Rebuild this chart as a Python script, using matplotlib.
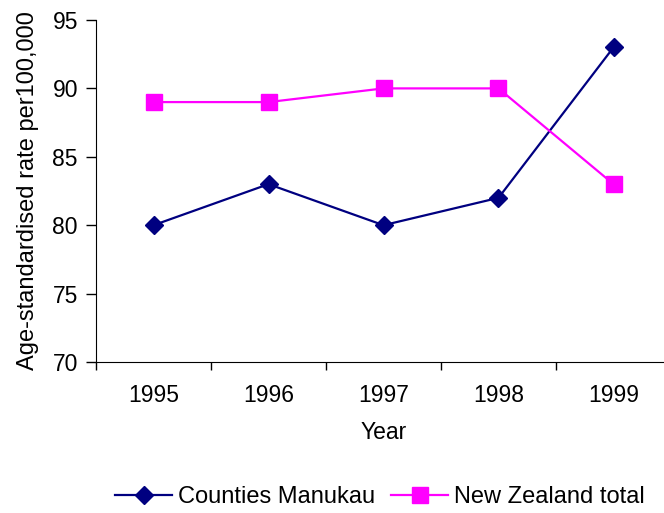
import matplotlib

matplotlib.use("Agg")
import matplotlib.pyplot as plt
import numpy as np

years = ["1995", "1996", "1997", "1998", "1999"]
counties_manukau = [80, 83, 80, 82, 93]
nz_total = [89, 89, 90, 90, 83]

plt.rcParams["font.family"] = ["Liberation Sans", "DejaVu Sans"]

W, H = 664, 513
fig = plt.figure(figsize=(W / 100, H / 100), dpi=100)
ax = fig.add_axes([96 / W, 1 - 362 / H, 575 / W, 342 / H])

x = np.arange(len(years))
ax.plot(x, counties_manukau, color="#000080", lw=1.6, marker="D", ms=9,
        label="Counties Manukau", clip_on=False)
ax.plot(x, nz_total, color="#ff00ff", lw=1.6, marker="s", ms=11,
        label="New Zealand total", clip_on=False)

ax.set_xlim(-0.5, 4.5)
ax.set_ylim(70, 95)
ax.set_yticks(range(70, 96, 5))
ax.set_xticks(x)
ax.set_xticklabels(years)
ax.set_xticks(np.arange(-0.5, 4.6, 1), minor=True)
ax.tick_params(axis="x", which="major", length=0, pad=16, labelsize=16.5)
ax.tick_params(axis="x", which="minor", length=6, width=1, direction="out")
ax.tick_params(axis="y", length=7, width=1, direction="out", labelsize=16.5, pad=6)

for side in ["top", "right"]:
    ax.spines[side].set_visible(False)

ax.set_xlabel("Year", fontsize=16.5, labelpad=10)
ax.set_ylabel("Age-standardised rate per100,000", fontsize=17, labelpad=10)

fig.legend(loc="center", bbox_to_anchor=(380 / W, 1 - 497 / H), ncol=2, frameon=False,
           fontsize=17, handlelength=2.4, columnspacing=0.7, handletextpad=0.25,
           borderpad=0, borderaxespad=0)

fig.savefig("out.png", dpi=100)
